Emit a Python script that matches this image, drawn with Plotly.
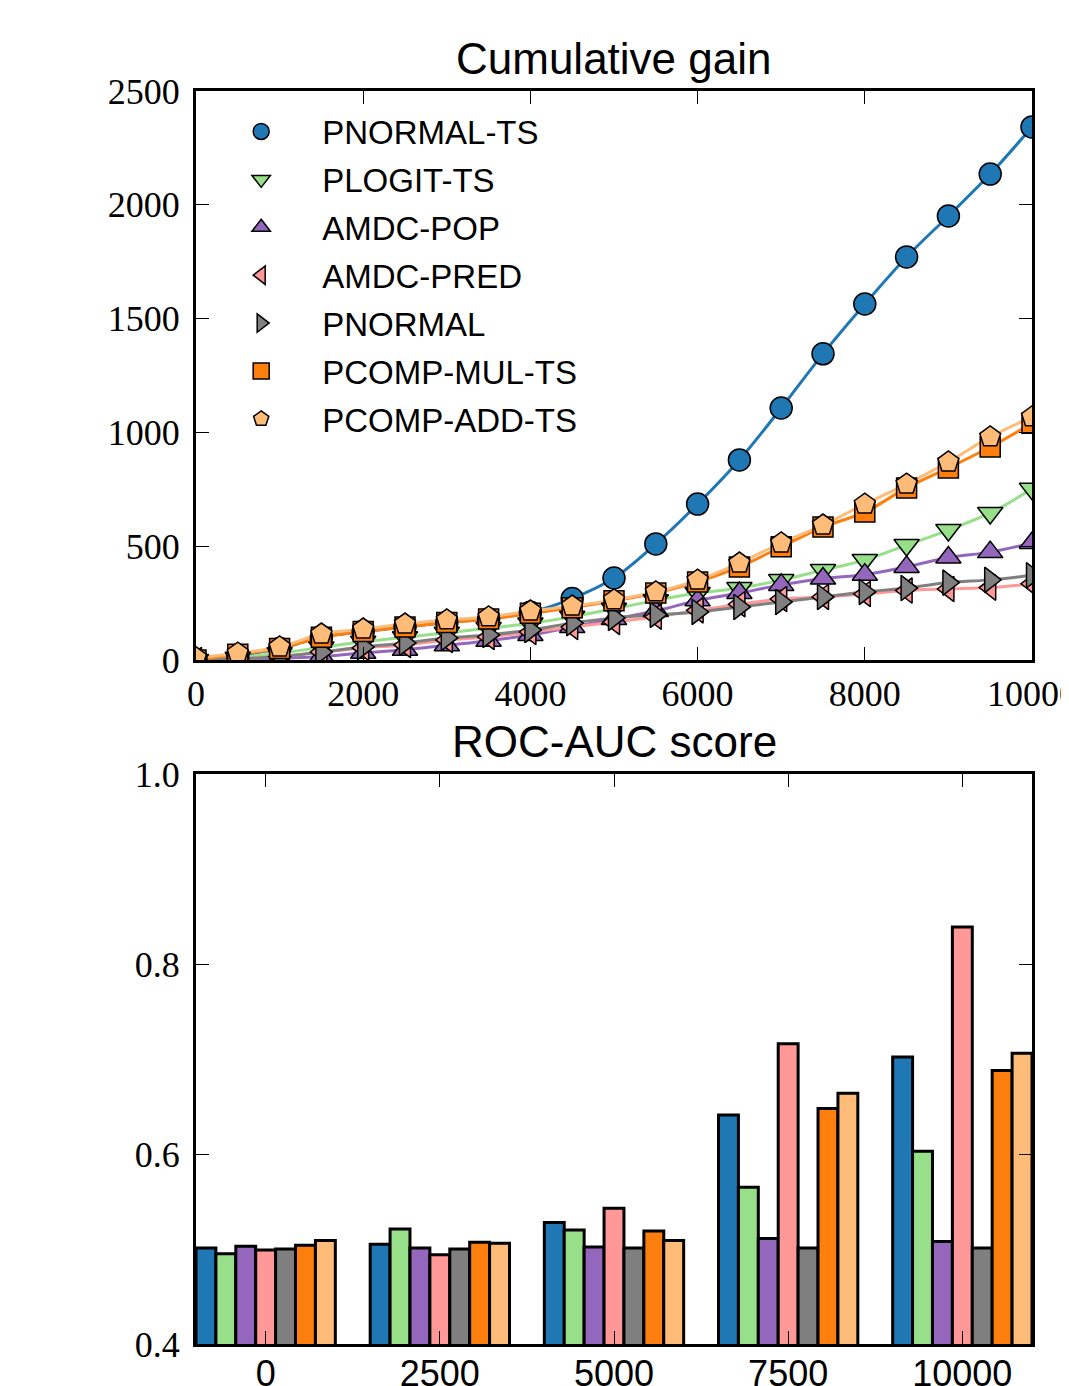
import plotly.graph_objects as go

# ---------------- data ----------------
steps = [0, 500, 1000, 1500, 2000, 2500, 3000, 3500, 4000, 4500, 5000,
         5500, 6000, 6500, 7000, 7500, 8000, 8500, 9000, 9500, 10000]

methods = ["PNORMAL-TS", "PLOGIT-TS", "AMDC-POP", "AMDC-PRED",
           "PNORMAL", "PCOMP-MUL-TS", "PCOMP-ADD-TS"]

gain_pnormal_ts = [0, 20, 50, 100, 125, 145, 165, 180, 210, 270, 360, 510, 685,
                   879, 1107, 1345, 1564, 1771, 1951, 2135, 2342]
gain_plogit_ts = [0, 10, 30, 55, 80, 100, 120, 140, 160, 190, 225, 262, 294,
                  316, 351, 395, 439, 505, 571, 646, 752]
gain_amdc_pop = [0, 2, 8, 15, 32, 45, 65, 85, 110, 145, 180, 215, 262, 294,
                 330, 358, 375, 409, 450, 474, 514]
gain_amdc_pred = [0, 5, 15, 35, 53, 66, 88, 101, 123, 145, 167, 190, 218, 245,
                  268, 277, 290, 305, 312, 318, 335]
gain_pnormal = [0, 5, 15, 35, 57, 75, 97, 110, 132, 162, 185, 198, 211, 233,
                255, 277, 299, 316, 340, 352, 372]
gain_pcomp_mul_ts = [0, 25, 50, 100, 125, 145, 165, 180, 205, 230, 260, 294,
                     343, 409, 497, 584, 650, 756, 844, 936, 1040]
gain_pcomp_add_ts = [10, 30, 57, 114, 136, 158, 176, 189, 215, 237, 264, 299,
                     351, 426, 514, 593, 685, 773, 870, 980, 1068]

roc_categories = ["0", "2500", "5000", "7500", "10000"]
roc_pnormal_ts = [0.501, 0.505, 0.528, 0.641, 0.702]
roc_plogit_ts = [0.495, 0.521, 0.520, 0.565, 0.603]
roc_amdc_pop = [0.503, 0.501, 0.502, 0.511, 0.508]
roc_amdc_pred = [0.499, 0.494, 0.543, 0.716, 0.839]
roc_pnormal = [0.500, 0.500, 0.501, 0.501, 0.501]
roc_pcomp_mul_ts = [0.504, 0.507, 0.519, 0.648, 0.688]
roc_pcomp_add_ts = [0.509, 0.506, 0.509, 0.664, 0.706]

gain_x_ticks = [0, 2000, 4000, 6000, 8000, 10000]
gain_y_ticks = [0, 500, 1000, 1500, 2000, 2500]
roc_y_ticks = [0.4, 0.6, 0.8, 1.0]

# ---------------- style ----------------
colors = ["#1f77b4", "#98df8a", "#9467bd", "#ff9896", "#7f7f7f", "#ff7f0e", "#ffbb78"]
symbols = ["circle", "triangle-down", "triangle-up", "triangle-left",
           "triangle-right", "square", "pentagon"]
sizes = [22, 22, 22, 22, 22, 20, 22]

gains = [gain_pnormal_ts, gain_plogit_ts, gain_amdc_pop, gain_amdc_pred,
         gain_pnormal, gain_pcomp_mul_ts, gain_pcomp_add_ts]
rocs = [roc_pnormal_ts, roc_plogit_ts, roc_amdc_pop, roc_amdc_pred,
        roc_pnormal, roc_pcomp_mul_ts, roc_pcomp_add_ts]

SERIF = "Liberation Serif"
SANS = "Liberation Sans"

fig = go.Figure()

for i, name in enumerate(methods):
    fig.add_trace(go.Scatter(
        x=steps, y=gains[i], mode="lines", line=dict(color=colors[i], width=3, shape="spline"),
        showlegend=False, hoverinfo="skip", xaxis="x", yaxis="y"))
for i, name in enumerate(methods):
    fig.add_trace(go.Scatter(
        x=steps, y=gains[i], mode="markers", name=name, legendgroup=name,
        marker=dict(color=colors[i], symbol=symbols[i], size=sizes[i],
                    line=dict(color="black", width=1.5)),
        xaxis="x", yaxis="y"))

for i, name in enumerate(methods):
    fig.add_trace(go.Bar(
        x=roc_categories, y=rocs[i], name=name, showlegend=False,
        marker=dict(color=colors[i], line=dict(color="black", width=3)),
        xaxis="x2", yaxis="y2"))

axis_common = dict(showline=True, linecolor="black", linewidth=3, mirror="allticks",
                   ticks="inside", ticklen=13, tickwidth=1, tickcolor="black",
                   showgrid=False, zeroline=False, automargin=False)

fig.update_layout(
    width=1069, height=1386,
    margin=dict(l=188, r=45, t=83, b=50),
    paper_bgcolor="white", plot_bgcolor="white",
    barmode="group", bargap=0.2, bargroupgap=0,
    xaxis=dict(domain=[0, 1], anchor="y", range=[0, 10000], tickvals=gain_x_ticks,
               tickformat="d",
               tickfont=dict(family=SERIF, size=36, color="black"),
               ticklabelstandoff=0, **axis_common),
    yaxis=dict(domain=[0.5459, 1], anchor="x", range=[0, 2500], tickvals=gain_y_ticks,
               tickformat="d",
               tickfont=dict(family=SERIF, size=36, color="black"),
               ticklabelstandoff=6, **axis_common),
    xaxis2=dict(domain=[0, 1], anchor="y2", type="category", range=[-0.4, 4.4],
                tickfont=dict(family=SANS, size=36, color="black"),
                ticklabelstandoff=-4, **axis_common),
    yaxis2=dict(domain=[0, 0.4549], anchor="x2", range=[0.4, 1.0], tickvals=roc_y_ticks,
                tickformat=".1f",
                tickfont=dict(family=SERIF, size=36, color="black"),
                ticklabelstandoff=6, **axis_common),
    legend=dict(x=0.005, y=0.99, xanchor="left", yanchor="top",
                bgcolor="rgba(0,0,0,0)", borderwidth=0,
                font=dict(family=SANS, size=33, color="black"),
                itemwidth=112, tracegroupgap=2, traceorder="grouped"),
    annotations=[
        dict(text="Cumulative gain", x=0.5, y=1.0263, xref="paper", yref="paper",
             xanchor="center", yanchor="middle", showarrow=False,
             font=dict(family=SANS, size=44, color="black")),
        dict(text="ROC-AUC score", x=0.5, y=0.4812, xref="paper", yref="paper",
             xanchor="center", yanchor="middle", showarrow=False,
             font=dict(family=SANS, size=44, color="black")),
    ],
)

fig.write_html("out.html")
